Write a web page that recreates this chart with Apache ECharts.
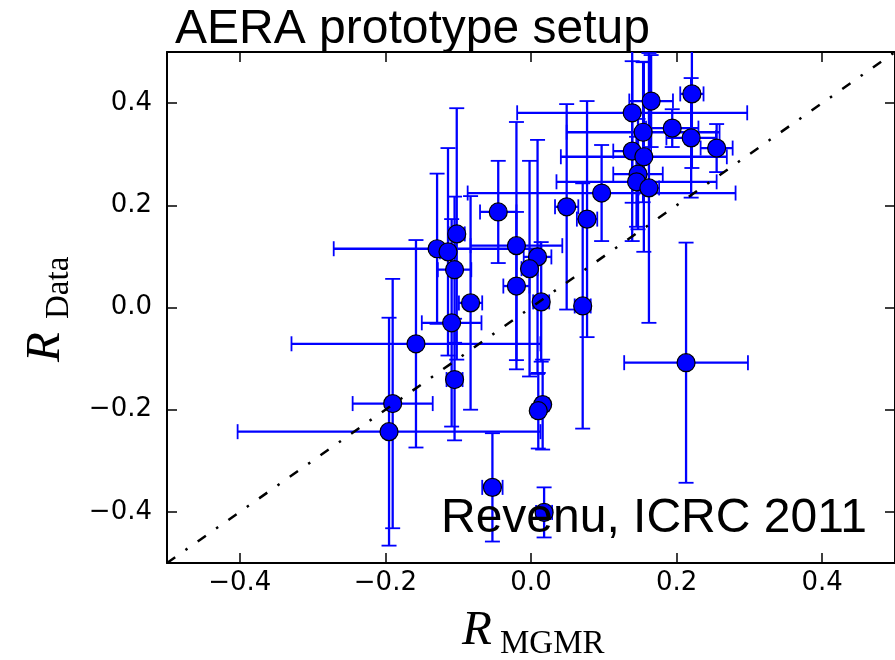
<!DOCTYPE html>
<html><head><meta charset="utf-8">
<script src="https://cdn.jsdelivr.net/npm/echarts@6/dist/echarts.min.js"></script>
<style>html,body{margin:0;padding:0;background:#fff}#c{width:895px;height:660px}</style>
</head><body><div id="c"></div>
<script>
// R_MGMR values
const xs = [0.221, 0.165, 0.139, 0.194, 0.154, 0.220, 0.255, 0.139, 0.155, 0.147,
            0.145, 0.162, 0.097, 0.049, 0.077, -0.045, -0.102, -0.129, -0.114, -0.020,
            0.009, -0.002, -0.105, -0.020, -0.083, 0.014, 0.071, -0.109, -0.158, -0.105,
            0.213, -0.190, 0.016, 0.010, -0.195, -0.053, 0.018];
// R_Data values
const ys = [0.418, 0.404, 0.381, 0.351, 0.343, 0.332, 0.312, 0.306, 0.295, 0.261,
            0.246, 0.234, 0.224, 0.197, 0.173, 0.187, 0.144, 0.115, 0.109, 0.121,
            0.099, 0.076, 0.074, 0.042, 0.009, 0.011, 0.003, -0.030, -0.071, -0.141,
            -0.108, -0.188, -0.190, -0.202, -0.243, -0.352, -0.401];
// horizontal (x) errors
const xErr = [0.016, 0.030, 0.158, 0.036, 0.105, 0.034, 0.022, 0.026, 0.114, 0.034,
              0.110, 0.014, 0.184, 0.016, 0.014, 0.025, 0.011, 0.142, 0.011, 0.063,
              0.019, 0.011, 0.023, 0.018, 0.016, 0.011, 0.011, 0.041, 0.171, 0.011,
              0.085, 0.055, 0.008, 0.008, 0.208, 0.014, 0.011];
// vertical (y) errors
const yErr = [0.145, 0.090, 0.176, 0.037, 0.137, 0.117, 0.047, 0.176, 0.186, 0.108,
              0.088, 0.264, 0.094, 0.201, 0.231, 0.100, 0.246, 0.147, 0.203, 0.242,
              0.229, 0.211, 0.143, 0.145, 0.209, 0.117, 0.240, 0.203, 0.203, 0.119,
              0.235, 0.244, 0.088, 0.074, 0.223, 0.106, 0.049];
const tickValues = [-0.4, -0.2, 0.0, 0.2, 0.4];
const diagonal = [[-0.5, -0.5], [0.5, 0.5]];

const fmt = v => (v < -1e-9 ? '\u2212' : '') + Math.abs(v).toFixed(1);
const axisLineStyle = {onZero: false, lineStyle: {color: '#000', width: 2}};
const tickStyle = {inside: true, length: 10, customValues: tickValues, lineStyle: {color: '#000', width: 1.5}};
const labelStyle = {customValues: tickValues, formatter: fmt, fontFamily: 'DejaVu Sans', fontSize: 26, color: '#000'};

const chart = echarts.init(document.getElementById('c'), null, {renderer: 'canvas'});
const errData = xs.map((x, i) => [x, ys[i], xErr[i], yErr[i]]);
const ptData = xs.map((x, i) => [x, ys[i]]);

chart.setOption({
  animation: false,
  backgroundColor: '#fff',
  grid: {left: 167, top: 52, width: 729, height: 511, containLabel: false},
  xAxis: [
    {type: 'value', min: -0.5, max: 0.5, position: 'bottom', axisLine: axisLineStyle,
     axisTick: tickStyle, axisLabel: Object.assign({margin: 7}, labelStyle), splitLine: {show: false}},
    {type: 'value', min: -0.5, max: 0.5, position: 'top', axisLine: axisLineStyle,
     axisTick: tickStyle, axisLabel: {show: false}, splitLine: {show: false}}
  ],
  yAxis: [
    {type: 'value', min: -0.5, max: 0.5, position: 'left', axisLine: axisLineStyle,
     axisTick: tickStyle, axisLabel: Object.assign({margin: 15}, labelStyle), splitLine: {show: false}},
    {type: 'value', min: -0.5, max: 0.5, position: 'right', axisLine: axisLineStyle,
     axisTick: tickStyle, axisLabel: {show: false}, splitLine: {show: false}}
  ],
  series: [
    {
      type: 'custom', clip: true, z: 2, silent: true,
      data: errData,
      encode: {x: 0, y: 1},
      renderItem: function (params, api) {
        const x = api.value(0), y = api.value(1), ex = api.value(2), ey = api.value(3);
        const c = api.coord([x, y]);
        const l = api.coord([x - ex, y])[0], r = api.coord([x + ex, y])[0];
        const t = api.coord([x, y + ey])[1], b = api.coord([x, y - ey])[1];
        const h = 7.5;
        const st = {stroke: '#0000ff', lineWidth: 2.3};
        const cs = {stroke: '#0000ff', lineWidth: 1.8};
        return {type: 'group', children: [
          {type: 'line', shape: {x1: l, y1: c[1], x2: r, y2: c[1]}, style: st},
          {type: 'line', shape: {x1: c[0], y1: t, x2: c[0], y2: b}, style: st},
          {type: 'line', shape: {x1: l, y1: c[1] - h, x2: l, y2: c[1] + h}, style: cs},
          {type: 'line', shape: {x1: r, y1: c[1] - h, x2: r, y2: c[1] + h}, style: cs},
          {type: 'line', shape: {x1: c[0] - h, y1: t, x2: c[0] + h, y2: t}, style: cs},
          {type: 'line', shape: {x1: c[0] - h, y1: b, x2: c[0] + h, y2: b}, style: cs}
        ]};
      }
    },
    {
      type: 'scatter', z: 3, silent: true, data: ptData, symbol: 'circle', symbolSize: 18,
      itemStyle: {color: '#0000ff', borderColor: '#000', borderWidth: 1.2, opacity: 1}
    },
    {
      type: 'line', z: 4, silent: true, data: diagonal, showSymbol: false, symbol: 'none',
      lineStyle: {color: '#000', width: 2.5, type: [10, 12.5, 2.5, 12.5]}
    }
  ],
  graphic: [
    {type: 'text', z: 100, x: 175, y: 30, style: {text: 'AERA prototype setup', font: '48px "Liberation Sans"', fill: '#000', verticalAlign: 'middle', align: 'left'}},
    {type: 'text', z: 100, x: 441, y: 519, style: {text: 'Revenu, ICRC 2011', font: '48px "Liberation Sans"', fill: '#000', verticalAlign: 'middle', align: 'left'}},
    {type: 'text', z: 100, x: 462, y: 631, style: {text: 'R', font: 'italic 49px "Liberation Serif"', fill: '#000', verticalAlign: 'middle', align: 'left'}},
    {type: 'text', z: 100, x: 500, y: 644, style: {text: 'MGMR', font: '33px "Liberation Serif"', fill: '#000', verticalAlign: 'middle', align: 'left'}},
    {type: 'group', z: 100, x: 62, y: 362, rotation: Math.PI / 2, children: [
      {type: 'text', x: 0, y: -16, style: {text: 'R', font: 'italic 49px "Liberation Serif"', fill: '#000', verticalAlign: 'middle', align: 'left'}},
      {type: 'text', x: 43, y: -3, style: {text: 'Data', font: '33px "Liberation Serif"', fill: '#000', verticalAlign: 'middle', align: 'left'}}
    ]}
  ]
});
</script>
</body></html>
